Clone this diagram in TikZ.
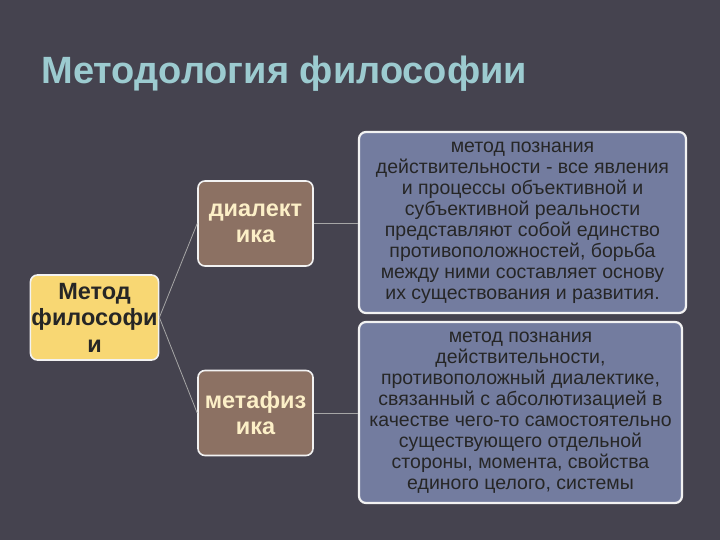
\documentclass[tikz,border=0pt]{standalone}
\usepackage{fontspec}
\setmainfont{Liberation Sans}
\begin{document}
\begin{tikzpicture}[x=1pt,y=-1pt,
  box/.style={draw=white!90!gray,line width=1.6pt,rounded corners=7pt,inner sep=1pt,align=center},
  small/.style={box,minimum width=115pt,minimum height=85pt,font=\bfseries\fontsize{23.5}{26.5}\selectfont},
  big/.style={box,fill=bluebox,text=black!85,font=\fontsize{19.5}{21}\selectfont,line width=2.2pt},
  link/.style={draw=gray!70,line width=0.8pt}]
\definecolor{bg}{HTML}{45434F}
\definecolor{bluebox}{HTML}{737C9F}
\definecolor{brownbox}{HTML}{8C7163}
\definecolor{yellowbox}{HTML}{F8D773}
\definecolor{titlec}{HTML}{9CCBD0}
\fill[bg] (0,0) rectangle (720,540);
\useasboundingbox (0,0) rectangle (720,540);
\node[anchor=base west,text=titlec,font=\bfseries\fontsize{38}{42}\selectfont] (title) at (38,84) {Методология философии};
\node[small,fill=yellowbox,text=black!85] (m) at (94.5,317.5) {Метод\\философи\\и};
\node[small,fill=brownbox,text=yellowbox!40!white] (d) at (255.5,223.5) {диалект\\ика};
\node[small,fill=brownbox,text=yellowbox!40!white] (f) at (255.5,413) {метафиз\\ика};
\node[big,minimum width=327pt,minimum height=181pt] (t1) at (522.5,222.5) {метод познания\\действительности - все явления\\и процессы объективной и\\субъективной реальности\\представляют собой единство\\противоположностей, борьба\\между ними составляет основу\\их существования и развития.};
\node[big,minimum width=323pt,minimum height=181pt] (t2) at (520.5,412.5) {метод познания\\действительности,\\противоположный диалектике,\\связанный с абсолютизацией в\\качестве чего-то самостоятельно\\существующего отдельной\\стороны, момента, свойства\\единого целого, системы};
\draw[link] (m.east) -- (d.west);
\draw[link] (m.east) -- (f.west);
\draw[link] (d.east) -- (d.east -| t1.west);
\draw[link] (f.east) -- (f.east -| t2.west);
\end{tikzpicture}
\end{document}
